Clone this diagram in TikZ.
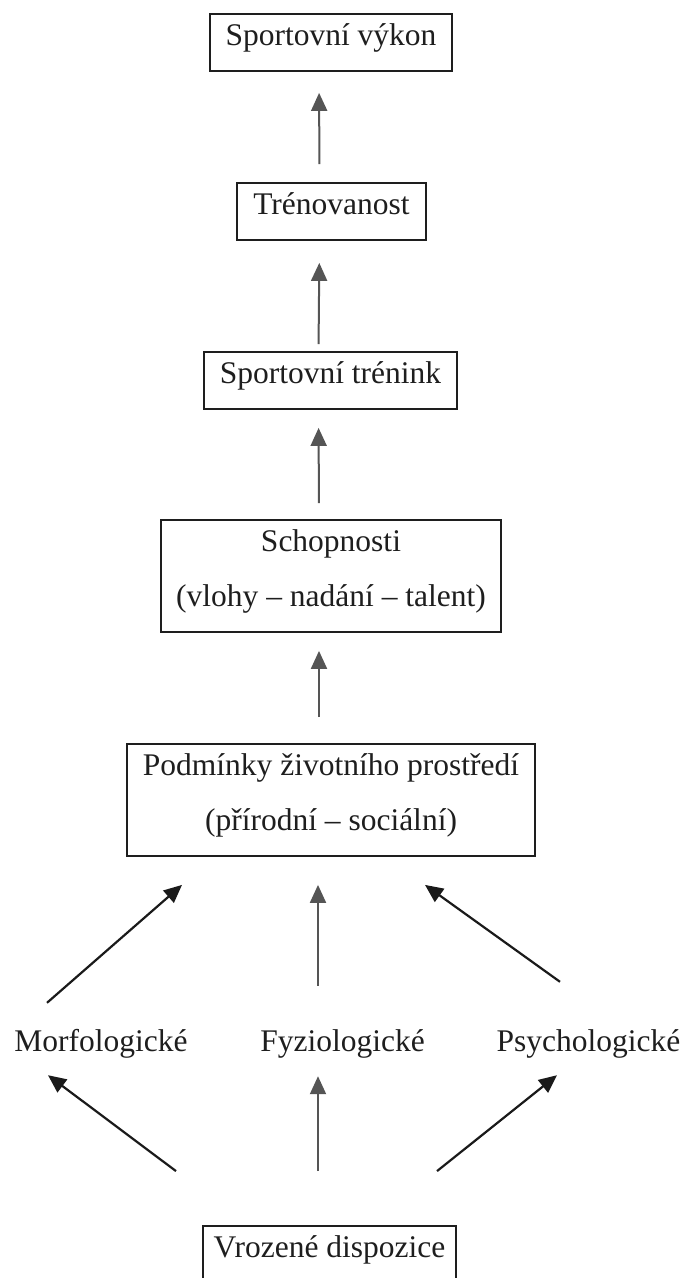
\documentclass[tikz,border=0pt]{standalone}
\usepackage{fontspec}
\setmainfont{Liberation Serif}
\usetikzlibrary{arrows.meta,calc}
\definecolor{ink}{HTML}{1E1E1E}
\definecolor{vgray}{HTML}{555555}
\definecolor{dgray}{HTML}{1A1A1A}
\begin{document}
\begin{tikzpicture}[x=1pt,y=-1pt,
  txt/.style={font=\fontsize{31.5}{55}\selectfont, text=ink},
  box/.style={txt, draw=ink, line width=1.8pt, inner xsep=0pt, inner ysep=0pt,
              text height=31pt, text depth=26pt, anchor=base},
  box2/.style={box, text depth=81pt},
  lbl/.style={txt, inner sep=0pt, text height=25pt, text depth=7pt, anchor=base},
  varr/.style={draw=vgray, line width=2pt, -{Triangle[length=18pt,width=16pt]}},
  darr/.style={draw=dgray, line width=2.2pt, -{Triangle[length=18pt,width=16pt]}}]

\useasboundingbox (0,0) rectangle (687,1278);

\node[box, minimum width=242pt] (b1) at (331,45) {Sportovní výkon};
\node[box, minimum width=189pt] (b2) at (331.5,214) {Trénovanost};
\node[box, minimum width=253pt] (b3) at (330.5,383) {Sportovní trénink};
\node[box2, minimum width=340pt] (b4) at (331,551)
  {\begin{tabular}[t]{@{}c@{}}Schopnosti\\(vlohy – nadání – talent)\end{tabular}};
\node[box2, minimum width=408pt] (b5) at (331,775)
  {\begin{tabular}[t]{@{}c@{}}Podmínky životního prostředí\\(přírodní – sociální)\end{tabular}};
\node[box, minimum width=253pt] (b6) at (329.5,1257) {Vrozené dispozice};

\node[lbl] (m) at (101,1051) {Morfologické};
\node[lbl] (f) at (342.5,1051) {Fyziologické};
\node[lbl] (s) at (588.5,1051) {Psychologické};

% vertical chain
\draw[varr, shorten <=18pt, shorten >=21pt] ([xshift=-12pt]b2.north) -- ([xshift=-12pt]b1.south);
\draw[varr, shorten <=7pt, shorten >=22pt] ([xshift=-12pt]b3.north) -- ([xshift=-12pt]b2.south);
\draw[varr, shorten <=16pt, shorten >=18pt] ([xshift=-12pt]b4.north) -- ([xshift=-12pt]b3.south);
\draw[varr, shorten <=26pt, shorten >=18pt] ([xshift=-12pt]b5.north) -- ([xshift=-12pt]b4.south);

% labels to environment box
\draw[darr] ($(m.north)+(-54,-23)$) -- ($(b5.south)+(-149,28)$);
\draw[varr] ($(f.north)+(-24.5,-40)$) -- ($(b5.south)+(-13,28)$);
\draw[darr] ($(s.north)+(-28.5,-44)$) -- ($(b5.south)+(94,28)$);

% innate dispositions to labels
\draw[darr] ($(b6.north)+(-153.5,-54)$) -- ($(m.south)+(-53,17)$);
\draw[varr] ($(b6.north)+(-11.5,-54)$) -- ($(f.south)+(-24.5,18)$);
\draw[darr] ($(b6.north)+(107.5,-54)$) -- ($(s.south)+(-31.5,17)$);
\end{tikzpicture}
\end{document}
